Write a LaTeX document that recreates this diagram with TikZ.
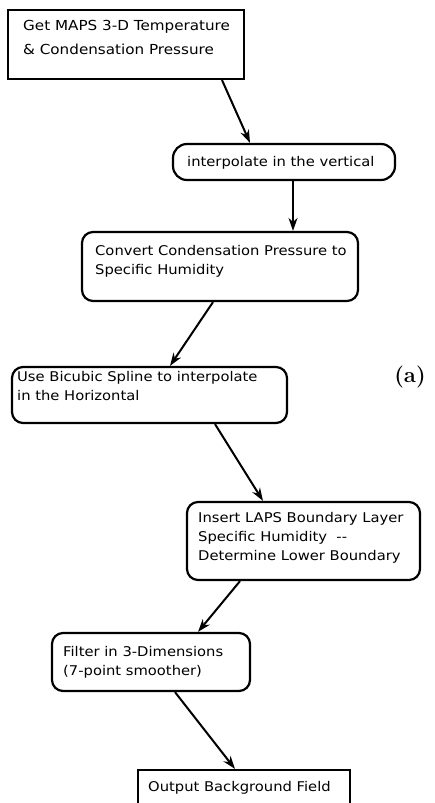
\documentclass[tikz,border=0pt]{standalone}
\usepackage{fontspec}
\newfontfamily\plotfont[FakeStretch=1.1]{DejaVu Sans}
\usetikzlibrary{arrows.meta}
\tikzset{
  box/.style={draw, line width=2.2pt, inner sep=0pt},
  rbox/.style={box, rounded corners=11pt},
  txt/.style={anchor=west, align=left, inner sep=0pt, font=\plotfont\fontsize{13.4}{19}\selectfont},
  arr/.style={line width=2pt, -{Stealth[length=13pt,width=9pt]}}
}
\begin{document}
\begin{tikzpicture}[x=1pt,y=-1pt]
\useasboundingbox (0,0) rectangle (434,803);
\clip (0,0) rectangle (434,803);
% boxes
\node[box, minimum width=236pt, minimum height=69pt] (b1) at (126,44.5) {};
\node[rbox, rounded corners=14pt, minimum width=222pt, minimum height=36pt] (b2) at (284,162) {};
\node[rbox, minimum width=276pt, minimum height=69pt] (b3) at (220,266.5) {};
\node[rbox, minimum width=275pt, minimum height=56pt] (b4) at (149.5,395) {};
\node[rbox, minimum width=233pt, minimum height=78pt] (b5) at (303.5,541) {};
\node[rbox, minimum width=198pt, minimum height=58pt] (b6) at (151,662) {};
\node[box, minimum width=212pt, minimum height=44pt] (b7) at (244,792) {};
% texts
\node[txt, font=\plotfont\fontsize{13.8}{24}\selectfont] (t1) at (23,37) {Get MAPS 3-D Temperature\\\& Condensation Pressure};
\node[txt] (t2) at (187,163) {interpolate in the vertical};
\node[txt] (t3) at (95,261) {Convert Condensation Pressure to\\Specific Humidity};
\node[txt] (t4) at (17,386) {Use Bicubic Spline to interpolate\\in the Horizontal};
\node[txt] (t5) at (198,538) {Insert LAPS Boundary Layer\\Specific Humidity\ \ --\\Determine Lower Boundary};
\node[txt] (t6) at (63,662.5) {Filter in 3-Dimensions\\(7-point smoother)};
\node[txt] (t7) at (148,788) {Output Background Field};
\node[font=\bfseries\fontsize{22}{24}\selectfont, inner sep=0pt] (lab) at (410,377) {(a)};
% connectors
\draw[arr] (222,0 |- b1.south) -- (250,0 |- b2.north);
\draw[arr] (293,0 |- b2.south) -- (293,0 |- b3.north);
\draw[arr] (213,0 |- b3.south) -- (170,0 |- b4.north);
\draw[arr] (215,0 |- b4.south) -- (263,0 |- b5.north);
\draw[arr] (240,0 |- b5.south) -- (198,0 |- b6.north);
\draw[arr] (175,0 |- b6.south) -- (235,0 |- b7.north);
\end{tikzpicture}
\end{document}
